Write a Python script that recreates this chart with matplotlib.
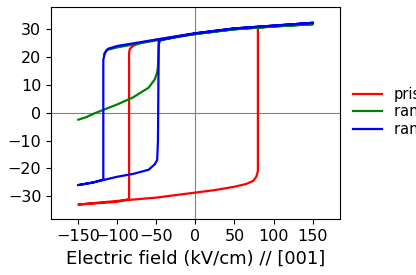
import matplotlib
matplotlib.use("Agg")
import matplotlib.pyplot as plt

# pristine (red)
red_E = [150, 100, 50, 0, -50, -70, -80, -84, -85, -85, -100, -150,
         -150, -100, -50, 0, 25, 50, 65, 74, 78, 80, 80, 100, 150]
red_P = [32.3, 31.3, 30.3, 28.5, 26.3, 25.2, 24.0, 23.0, 21.5, -31.0, -32.0, -33.0,
         -33.0, -31.7, -30.5, -28.7, -27.8, -26.6, -25.6, -24.5, -23.0, -21.0, 30.5, 31.2, 32.3]

# random 1 (green)
green_E = [-150, -140, -130, -120, -100, -80, -60, -52, -49, -48, -47, -45, -20, 0, 50, 100, 150,
           100, 50, 0, -50, -100, -114, -117]
green_P = [-2.5, -1.6, -0.3, 0.8, 3.0, 5.5, 9.0, 12.0, 14.5, 16.5, 24.5, 26.0, 27.5, 28.3, 30.0, 31.0, 31.8,
           31.0, 30.0, 28.3, 26.0, 23.5, 22.5, 21.0]

# random 2 (blue)
blue_E = [150, 100, 50, 0, -50, -100, -112, -116, -118, -118, -130, -150,
          -150, -130, -118, -100, -80, -60, -52, -49, -48, -47, -20, 0, 50, 100, 150]
blue_P = [32.3, 31.3, 30.3, 28.6, 26.3, 24.0, 23.0, 21.5, 19.0, -24.0, -25.0, -26.0,
          -26.0, -25.0, -24.2, -23.0, -22.0, -20.5, -18.5, -17.0, -10.0, 26.0, 27.5, 28.5, 30.3, 31.3, 32.3]

labels = ["pristine", "random 1", "random 2"]
xticks = [-150, -100, -50, 0, 50, 100, 150]
yticks = [-30, -20, -10, 0, 10, 20, 30]

fig = plt.figure(figsize=(4.16, 2.75), dpi=100)
ax = fig.add_axes([0.1226, 0.2036, 0.817 - 0.1226, 0.9745 - 0.2036])

ax.axhline(0, color="grey", lw=0.8, zorder=1)
ax.axvline(0, color="grey", lw=0.8, zorder=1)
ax.plot(red_E, red_P, color="red", lw=1.6, label=labels[0])
ax.plot(green_E, green_P, color="green", lw=1.6, label=labels[1])
ax.plot(blue_E, blue_P, color="blue", lw=1.6, label=labels[2])

ax.set_xlim(-185, 185)
ax.set_ylim(-38.2, 38)
ax.set_xticks(xticks)
ax.set_yticks(yticks)
ax.tick_params(labelsize=11.5)
ax.set_xlabel("Electric field (kV/cm) // [001]", fontsize=13)
ax.legend(loc="center left", bbox_to_anchor=(1.0, 0.505), frameon=False, fontsize=10.5,
          handlelength=2.0, labelspacing=0.15)

fig.savefig("out.png", dpi=100)
